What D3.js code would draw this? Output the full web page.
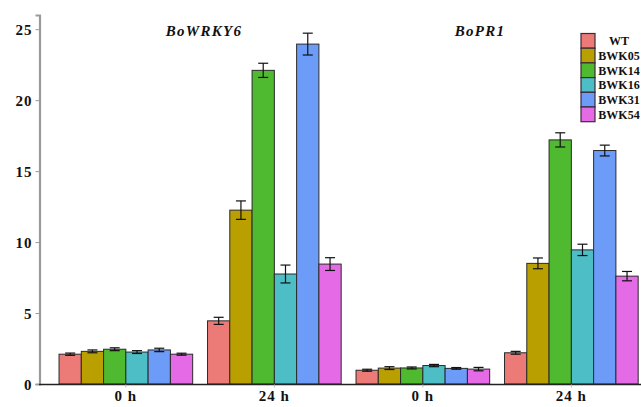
<!DOCTYPE html>
<html><head><meta charset="utf-8">
<script src="https://cdn.jsdelivr.net/npm/d3@7"></script>
<style>body{margin:0;background:#fff}svg{display:block}</style>
</head><body>
<script>
const groups = ["BoWRKY6|0 h","BoWRKY6|24 h","BoPR1|0 h","BoPR1|24 h"];
const groupLabels = ["0 h","24 h","0 h","24 h"];
const genes = ["BoWRKY6","BoPR1"];
const lines = ["WT","BWK05","BWK14","BWK16","BWK31","BWK54"];
const colors = ["#EC7A76","#B9A000","#4FB92F","#4DBDC6","#6C9CF7","#E46BE5"];
const means = [
  [2.1, 2.3, 2.45, 2.25, 2.4, 2.1],
  [4.45, 12.25, 22.1, 7.75, 23.95, 8.45],
  [0.97, 1.12, 1.13, 1.3, 1.1, 1.05],
  [2.2, 8.5, 17.2, 9.45, 16.45, 7.6]
];
const errs = [
  [0.08, 0.1, 0.1, 0.1, 0.12, 0.07],
  [0.25, 0.65, 0.5, 0.63, 0.77, 0.45],
  [0.07, 0.1, 0.07, 0.08, 0.06, 0.12],
  [0.1, 0.38, 0.5, 0.4, 0.38, 0.33]
];
const yTicks = [0,5,10,15,20,25];

const W = 641, H = 407;
const svg = d3.select("body").append("svg").attr("width",W).attr("height",H);
const font = "'Liberation Serif','Times New Roman',serif";

const x = d3.scaleBand().domain(groups).range([51.6, 645.6]).paddingInner(0.1).paddingOuter(0.05);
const xi = d3.scaleBand().domain(lines).range([0, x.bandwidth()]);
const y = d3.scaleLinear().domain([0, 26]).range([384, 15]);

// bars
const g = svg.append("g");
groups.forEach((grp, gi) => {
  const gg = g.append("g").attr("transform", `translate(${x(grp)},0)`);
  lines.forEach((ln, li) => {
    gg.append("rect")
      .attr("x", xi(ln)).attr("width", xi.bandwidth())
      .attr("y", y(means[gi][li])).attr("height", y(0) - y(means[gi][li]))
      .attr("fill", colors[li]).attr("stroke", "#2a2a2a").attr("stroke-width", 1);
  });
  lines.forEach((ln, li) => {
    const cx = xi(ln) + xi.bandwidth()/2;
    const top = y(means[gi][li] + errs[gi][li]), bot = y(means[gi][li] - errs[gi][li]);
    gg.append("line").attr("x1",cx).attr("x2",cx).attr("y1",top).attr("y2",bot).attr("stroke","#111").attr("stroke-width",1.2);
    gg.append("line").attr("x1",cx-5).attr("x2",cx+5).attr("y1",top).attr("y2",top).attr("stroke","#111").attr("stroke-width",1.2);
    gg.append("line").attr("x1",cx-5).attr("x2",cx+5).attr("y1",bot).attr("y2",bot).attr("stroke","#111").attr("stroke-width",1.2);
  });
});

// y axis
const yAxis = d3.axisLeft(y).tickValues(yTicks).tickSize(4).tickPadding(2).tickFormat(d3.format("d"));
const ya = svg.append("g").attr("transform","translate(39.5,0)").call(yAxis);
ya.select(".domain").attr("stroke","#9a9a9a").attr("stroke-width",2.2);
ya.selectAll(".tick line").attr("stroke","#999");
ya.selectAll(".tick text").attr("font-family",font).attr("font-weight","bold").attr("font-size",15).attr("fill","#111").attr("letter-spacing","1px").attr("dx","-1").attr("dy","0.36em");

// x axis
const xAxis = d3.axisBottom(x).tickFormat((d,i)=>groupLabels[i]).tickSize(3).tickPadding(2).tickSizeOuter(0);
const xa = svg.append("g").attr("transform","translate(0,384.5)").call(xAxis);
xa.select(".domain").attr("d","M39,0H641").attr("stroke","#222").attr("stroke-width",1.6);
xa.selectAll(".tick line").attr("stroke","#bbb");
xa.selectAll(".tick text").attr("font-family",font).attr("font-weight","bold").attr("font-size",15).attr("fill","#111").attr("letter-spacing","1px").attr("y",6).attr("dy","0.71em");

// gene titles
const titleX = [204, 480];
genes.forEach((gn,i)=>{
  svg.append("text").attr("x",titleX[i]).attr("y",36).attr("text-anchor","middle")
    .attr("font-family",font).attr("font-weight","bold").attr("font-style","italic")
    .attr("font-size",15).attr("letter-spacing","1.3px").attr("fill","#111").text(gn);
});

// legend
const lg = svg.append("g").attr("transform","translate(581,33.5)");
const sh = 14.7;
lines.forEach((ln,li)=>{
  lg.append("rect").attr("x",0).attr("y",li*sh).attr("width",14).attr("height",sh)
    .attr("fill",colors[li]).attr("stroke","#3a2a3a").attr("stroke-width",1.2);
  lg.append("text").attr("x",38).attr("y",li*sh+sh/2).attr("dy","0.36em").attr("text-anchor","middle")
    .attr("font-family",font).attr("font-weight","bold").attr("font-size",12).attr("fill","#111").text(ln);
});
</script>
</body></html>
